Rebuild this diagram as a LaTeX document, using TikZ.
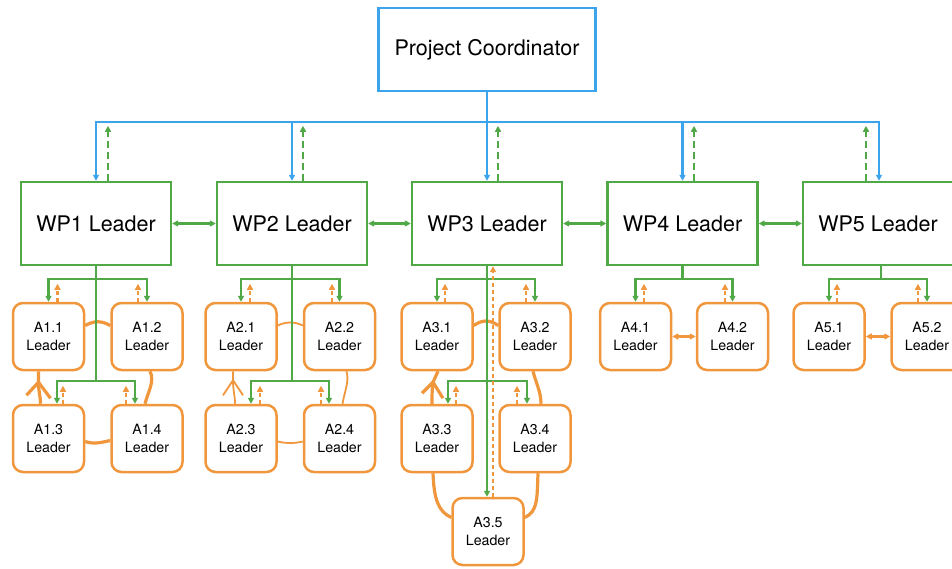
\documentclass[tikz,border=0pt]{standalone}
\usepackage{fontspec}
\setmainfont{TeX Gyre Heros}
\usetikzlibrary{arrows.meta,calc}
\definecolor{cblue}{RGB}{60,163,237}
\definecolor{cgreen}{RGB}{80,168,70}
\definecolor{corange}{RGB}{240,150,60}
\begin{document}
\begin{tikzpicture}[x=1pt,y=-1pt,
  >={Triangle[length=6pt,width=6pt]},
  pcbox/.style={draw=cblue,line width=2.4pt,minimum width=217pt,minimum height=83pt,inner sep=0pt,font=\fontsize{21.5}{26}\selectfont},
  wpbox/.style={draw=cgreen,line width=2.4pt,minimum width=150pt,minimum height=83pt,inner sep=0pt,font=\fontsize{21.5}{26}\selectfont},
  abox/.style={draw=corange,line width=2.5pt,rounded corners=10pt,minimum width=71pt,minimum height=67pt,inner sep=0pt,align=center,font=\fontsize{14.2}{18}\selectfont},
  bl/.style={draw=cblue,line width=2.2pt},
  gl/.style={draw=cgreen,line width=2.2pt},
  gd/.style={gl,dash pattern=on 7pt off 4pt},
  ol/.style={draw=corange,line width=2.2pt},
  od/.style={ol,dash pattern=on 4pt off 3pt},
  othick/.style={draw=corange,line width=3.2pt,line join=round},
  othin/.style={draw=corange,line width=1.8pt,line join=round},
]
\useasboundingbox (0,0) rectangle (952,569);

% nodes
\node[pcbox] (pc) at (487,49.5) {Project Coordinator};
\node[wpbox] (wp1) at (96,223.5) {WP1 Leader};
\node[wpbox] (wp2) at (292,223.5) {WP2 Leader};
\node[wpbox] (wp3) at (487,223.5) {WP3 Leader};
\node[wpbox] (wp4) at (682.5,223.5) {WP4 Leader};
\node[wpbox] (wp5) at (878,223.5) {WP5 Leader};

\node[abox] (a11) at (48.5,336.5) {A1.1\\Leader};
\node[abox] (a12) at (147,336.5) {A1.2\\Leader};
\node[abox] (a13) at (48.5,438.5) {A1.3\\Leader};
\node[abox] (a14) at (147,438.5) {A1.4\\Leader};

\node[abox] (a21) at (241,336.5) {A2.1\\Leader};
\node[abox] (a22) at (339.5,336.5) {A2.2\\Leader};
\node[abox] (a23) at (241,438.5) {A2.3\\Leader};
\node[abox] (a24) at (339.5,438.5) {A2.4\\Leader};

\node[abox] (a31) at (437,336.5) {A3.1\\Leader};
\node[abox] (a32) at (535,336.5) {A3.2\\Leader};
\node[abox] (a33) at (437,438.5) {A3.3\\Leader};
\node[abox] (a34) at (535,438.5) {A3.4\\Leader};
\node[abox] (a35) at (488,531.5) {A3.5\\Leader};

\node[abox] (a41) at (635.5,336.5) {A4.1\\Leader};
\node[abox] (a42) at (732.5,336.5) {A4.2\\Leader};
\node[abox] (a51) at (829,336.5) {A5.1\\Leader};
\node[abox] (a52) at (927,336.5) {A5.2\\Leader};

% blue bus
\coordinate (bus) at (487,122);
\draw[bl,->] (pc.south) -- (wp3.north);
\draw[bl,->] (bus) -- (wp1.north |- bus) -- (wp1.north);
\draw[bl,->] (bus) -- ([xshift=1pt]wp5.north |- bus) -- ([xshift=1pt]wp5.north);
\draw[bl,->] (wp2.north |- bus) -- (wp2.north);
\draw[bl,->] (wp4.north |- bus) -- (wp4.north);

% green dashed reports
\draw[gd,->] ([xshift=12pt]wp1.north) -- ++(0,-55);
\draw[gd,->] ([xshift=11pt]wp2.north) -- ++(0,-55);
\draw[gd,->] ([xshift=11pt]wp3.north) -- ++(0,-55);
\draw[gd,->] ([xshift=11.5pt]wp4.north) -- ++(0,-55);
\draw[gd,->] ([xshift=-12pt]wp5.north) -- ++(0,-55);

% green WP-WP
\draw[gl,<->] (wp1.east) -- (wp2.west);
\draw[gl,<->] (wp2.east) -- (wp3.west);
\draw[gl,<->] (wp3.east) -- (wp4.west);
\draw[gl,<->] (wp4.east) -- (wp5.west);

% ---- orange links (under green) ----
% group 1
\draw[othick] ($(a11.east)+(0,-11)$) .. controls +(9,-5) and +(-9,-5) .. ($(a12.west)+(0,-11)$);
\draw[othick] ($(a13.east)+(0,3)$) .. controls +(9,3) and +(-9,2) .. ($(a14.west)+(0,2)$);
\draw[othick] ($(a12.south)+(3,0)$) .. controls +(5,10) and +(3,-12) .. ($(a14.north)+(-2,0)$);
\coordinate (c1) at ($(a11.south)+(-10,11)$);
\draw[othick] ($(a11.south)+(-10,0)$) -- (c1) .. controls +(0,10) and +(0,-8) .. ($(a13.north)+(-8,0)$);
\draw[othick] ($(c1)+(-12,13)$) -- (c1) -- ($(c1)+(12,16)$);
% group 2
\draw[othin] ($(a21.east)+(0,-11)$) .. controls +(8,-4) and +(-8,-4) .. ($(a22.west)+(0,-11)$);
\draw[othin] ($(a23.east)+(0,3)$) .. controls +(8,2) and +(-8,2) .. ($(a24.west)+(0,3)$);
\draw[othin] ($(a22.south)+(7,0)$) .. controls +(3,10) and +(2,-12) .. ($(a24.north)+(3,0)$);
\coordinate (c2) at ($(a21.south)+(-8,9)$);
\draw[othin] ($(a21.south)+(-8,0)$) -- (c2) .. controls +(0,10) and +(0,-8) .. ($(a23.north)+(-6,0)$);
\draw[othin] ($(c2)+(-10,15)$) -- (c2) -- ($(c2)+(10,15)$);
% group 3
\draw[othick] ($(a31.east)+(0,-11)$) .. controls +(9,-6) and +(-9,-6) .. ($(a32.west)+(0,-11)$);
\draw[othick] ($(a32.south)+(-2,0)$) .. controls +(3,12) and +(0,-12) .. ($(a34.north)+(6,0)$);
\draw[othick] ($(a33.south)+(-4,0)$) .. controls +(1,26) and +(-13,-6) .. ($(a35.west)+(0,-14)$);
\draw[othick] ($(a34.south)+(3,0)$) .. controls +(-1,26) and +(13,-6) .. ($(a35.east)+(0,-14)$);
\coordinate (c3) at ($(a31.south)+(-4,11)$);
\draw[othick] ($(a31.south)+(1,0)$) -- (c3) .. controls +(-1,8) and +(0,-8) .. ($(a33.north)+(-5,0)$);
\draw[othick] ($(c3)+(-11,11)$) -- (c3) -- ($(c3)+(10,16)$);
% groups 4 and 5
\draw[ol,<->] (a41.east) -- (a42.west);
\draw[ol,<->] (a51.east) -- (a52.west);

% ---- green brackets ----
\draw[gl] (wp1.south) -- ++(0,116);
\draw[gl,<->] (a11.north) -- ++(0,-23) -| (a12.north);
\draw[gl,<->] ([xshift=8.5pt]a13.north) -- ++(0,-23) -| ([xshift=-12pt]a14.north);
\draw[gl] (wp2.south) -- ++(0,116);
\draw[gl,<->] (a21.north) -- ++(0,-23) -| (a22.north);
\draw[gl,<->] ([xshift=10pt]a23.north) -- ++(0,-23) -| ([xshift=-10.5pt]a24.north);
\draw[gl,->] (wp3.south) -- (wp3.south |- a35.north);
\draw[gl,<->] (a31.north) -- ++(0,-23) -| (a32.north);
\draw[gl,<->] ([xshift=11pt]a33.north) -- ++(0,-23) -| ([xshift=-8pt]a34.north);
\draw[gl] (wp4.south) -- ++(0,13);
\draw[gl,<->] (a41.north) -- ++(0,-23) -| (a42.north);
\draw[gl] ([xshift=3pt]wp5.south) -- ++(0,13);
\draw[gl,<->] (a51.north) -- ++(0,-23) -| (a52.north);

% ---- orange dashed reports ----
\draw[od,->] ([xshift=9pt]a11.north) -- ++(0,-18);
\draw[od,->] ([xshift=-9pt]a12.north) -- ++(0,-18);
\draw[od,->] ([xshift=14.5pt]a13.north) -- ++(0,-18);
\draw[od,->] ([xshift=-21pt]a14.north) -- ++(0,-18);
\draw[od,->] ([xshift=9pt]a21.north) -- ++(0,-18);
\draw[od,->] ([xshift=-7.5pt]a22.north) -- ++(0,-18);
\draw[od,->] ([xshift=19pt]a23.north) -- ++(0,-18);
\draw[od,->] ([xshift=-18.5pt]a24.north) -- ++(0,-18);
\draw[od,->] ([xshift=8pt]a31.north) -- ++(0,-18);
\draw[od,->] ([xshift=-9pt]a32.north) -- ++(0,-18);
\draw[od,->] ([xshift=19pt]a33.north) -- ++(0,-18);
\draw[od,->] ([xshift=-18pt]a34.north) -- ++(0,-18);
\draw[od,->] ([xshift=5pt]a35.north) -- ([xshift=5pt]a35.north |- wp3.south);
\draw[od,->] ([xshift=8.5pt]a41.north) -- ++(0,-18);
\draw[od,->] ([xshift=-7.5pt]a42.north) -- ++(0,-18);
\draw[od,->] ([xshift=8pt]a51.north) -- ++(0,-18);
\draw[od,->] ([xshift=-9pt]a52.north) -- ++(0,-18);
\end{tikzpicture}
\end{document}
